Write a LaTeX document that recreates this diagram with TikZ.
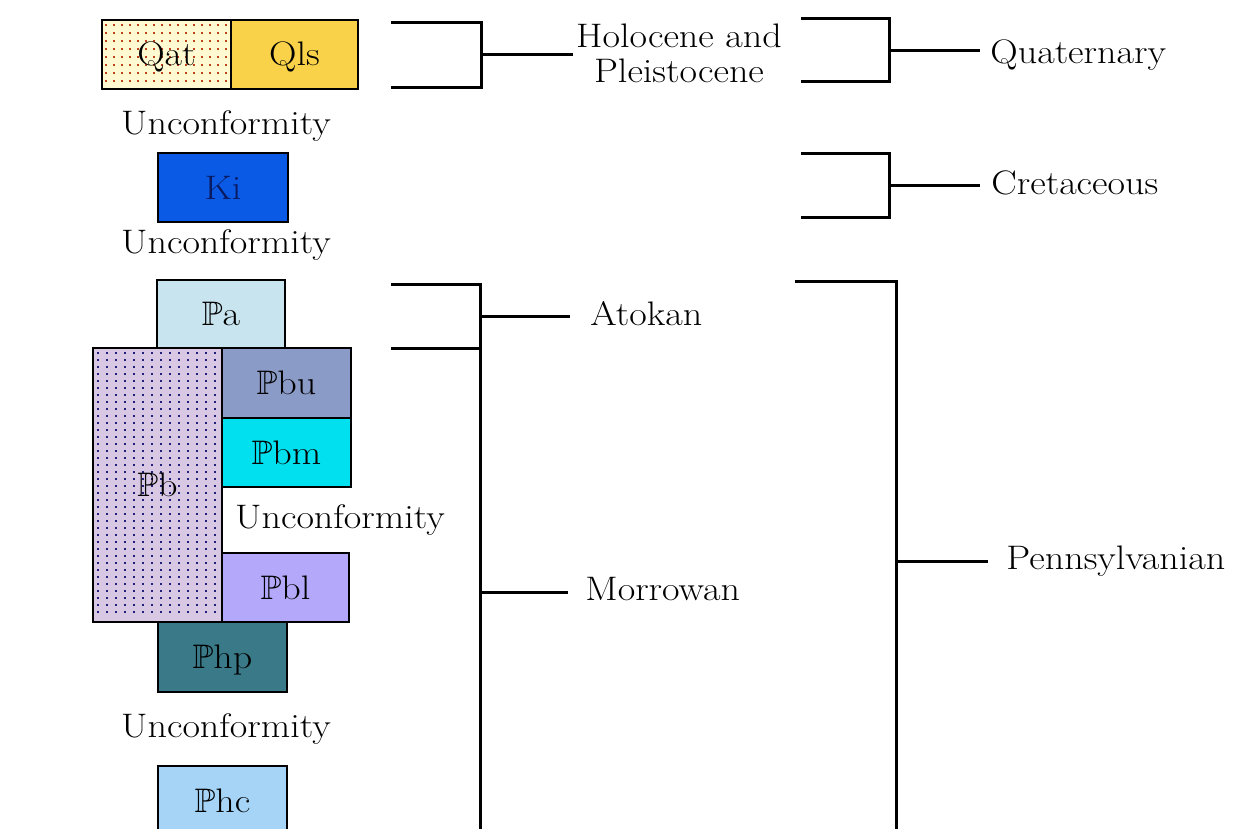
\documentclass[tikz,border=0pt]{standalone}
\usepackage{amssymb}
\usepackage{fontspec}
\setmainfont{Latin Modern Roman}[FakeStretch=1.12]
\definecolor{qatbg}{HTML}{FFFAD2}
\definecolor{qatdot}{HTML}{C0401A}
\definecolor{qlsbg}{HTML}{F9D24A}
\definecolor{kibg}{HTML}{0A5AE6}
\definecolor{kitext}{HTML}{0A1A60}
\definecolor{pabg}{HTML}{C8E4EE}
\definecolor{pbbg}{HTML}{D8C8E4}
\definecolor{pbdot}{HTML}{20207A}
\definecolor{pbubg}{HTML}{8B9BC8}
\definecolor{pbmbg}{HTML}{00E0EE}
\definecolor{pblbg}{HTML}{B3A8FA}
\definecolor{phpbg}{HTML}{3A7A88}
\definecolor{phcbg}{HTML}{A6D4F6}
\newcommand{\PP}{$\mathbb{P}$}
\begin{document}
\begin{tikzpicture}[x=0.5pt,y=-0.5pt,
  txt/.style={font=\fontsize{17}{17.5}\selectfont, inner sep=0pt},
  box/.style={draw=black, line width=1pt, inner sep=0pt, anchor=north west,
    font=\fontsize{17}{17.5}\selectfont, text height=11.5pt, text depth=0pt},
  brk/.style={line width=1.5pt}]
\useasboundingbox (0,0) rectangle (1242,829);
\fill[white] (0,0) rectangle (1242,829);
\begin{scope}
\clip (0,0) rectangle (1242,829);
% ---- Quaternary boxes
\fill[qatbg] (101,19) rectangle (230,88);
\foreach \x in {105,113,...,226} \foreach \y in {24,32,...,84}
  \fill[qatdot] (\x,\y) rectangle ++(1.8,1.8);
\node[box, minimum width=64.5pt, minimum height=34.5pt] (qat) at (101,19) {Qat};
\node[box, fill=qlsbg, minimum width=63.5pt, minimum height=34.5pt] (qls) at (230,19) {Qls};
\node[txt, anchor=base] (u1) at (226,134) {Unconformity};
% ---- Cretaceous
\node[box, fill=kibg, text=kitext, minimum width=65pt, minimum height=34.5pt] (ki) at (157,152) {Ki};
\node[txt, anchor=base] (u2) at (226,253) {Unconformity};
% ---- Pennsylvanian
\node[box, fill=pabg, minimum width=64pt, minimum height=34pt] (pa) at (156,279) {\PP a};
\fill[pbbg] (92,347) rectangle (221,621);
\foreach \x in {97,106,...,215} \foreach \y in {352,359,...,616}
  \fill[pbdot] (\x,\y) rectangle ++(1.8,1.8);
\node[box, minimum width=64.5pt, minimum height=137pt] (pb) at (92,347) {\PP b};
\node[box, fill=pbubg, minimum width=64.5pt, minimum height=35pt] (pbu) at (221,347) {\PP bu};
\node[box, fill=pbmbg, minimum width=64.5pt, minimum height=34.5pt] (pbm) at (221,417) {\PP bm};
\node[txt, anchor=base] (u3) at (340,528) {Unconformity};
\node[box, fill=pblbg, minimum width=63.5pt, minimum height=34.5pt] (pbl) at (221,552) {\PP bl};
\node[box, fill=phpbg, minimum width=64.5pt, minimum height=35pt] (php) at (157,621) {\PP hp};
\node[txt, anchor=base] (u4) at (226,737) {Unconformity};
\node[box, fill=phcbg, minimum width=64.5pt, minimum height=35pt] (phc) at (157,765) {\PP hc};

% ---- labels
\node[txt, align=center, inner xsep=1.5pt] (hol) at (679,53) {Holocene and\\Pleistocene};
\node[txt, anchor=base west, inner xsep=5pt] (qua) at (980,64) {Quaternary};
\node[txt, anchor=base west, inner xsep=5.5pt] (cre) at (980,194) {Cretaceous};
\node[txt, anchor=base west, inner xsep=10pt] (ato) at (570,325) {Atokan};
\node[txt, anchor=base west, inner xsep=8.5pt] (mor) at (568,600) {Morrowan};
\node[txt, anchor=base west, inner xsep=9pt] (pen) at (988,569) {Pennsylvanian};

% ---- brackets
\coordinate (h1) at (391,23); \coordinate (h2) at (391,88); \coordinate (hm) at (481,55);
\draw[brk] (h1) -| (hm) |- (h2);
\draw[brk] (hm) -- (hm -| hol.west);

\coordinate (q1) at (801,19); \coordinate (q2) at (801,82); \coordinate (qm) at (889,51);
\draw[brk] (q1) -| (qm) |- (q2);
\draw[brk] (qm) -- (qm -| qua.west);

\coordinate (c1) at (801,154); \coordinate (c2) at (801,217); \coordinate (cm) at (889,185);
\draw[brk] (c1) -| (cm) |- (c2);
\draw[brk] (cm) -- (cm -| cre.west);

\coordinate (a1) at (391,284); \coordinate (a2) at (391,348); \coordinate (ab) at (480,829);
\coordinate (am) at (480,316); \coordinate (mm) at (480,592);
\draw[brk] (a1) -| (ab);
\draw[brk] (a2) -- (a2 -| ab);
\draw[brk] (am) -- (am -| ato.west);
\draw[brk] (mm) -- (mm -| mor.west);

\coordinate (p1) at (795,281); \coordinate (pbt) at (896,829); \coordinate (pm) at (896,561);
\draw[brk] (p1) -| (pbt);
\draw[brk] (pm) -- (pm -| pen.west);
\end{scope}
\end{tikzpicture}
\end{document}
